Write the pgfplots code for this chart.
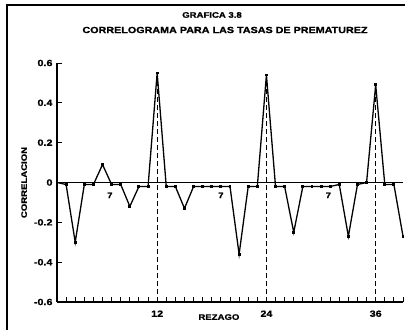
\documentclass[border=0pt]{standalone}
\usepackage{fontspec}
\setmainfont{Liberation Sans}[FakeStretch=1.2,BoldFeatures={FakeBold=1.2}]
\usepackage{pgfplots}
\pgfplotsset{compat=1.18}
\begin{document}
\begin{tikzpicture}[x=1bp,y=1bp]
\useasboundingbox (0,0) rectangle (414,330);
\draw[line width=1.6bp] (7,0) -- (7,325) -- (405,325);
\node[font=\fontsize{8}{10}\selectfont\bfseries] at (212,315) {GRAFICA 3.8};
\node[font=\fontsize{9}{11}\selectfont\bfseries] at (225,300) {CORRELOGRAMA PARA LAS TASAS DE PREMATUREZ};
\begin{axis}[
  at={(57bp,28bp)}, anchor=south west,
  width=346bp, height=239bp, scale only axis,
  xmin=1, xmax=39, ymin=-0.6, ymax=0.6,
  axis x line*=bottom, axis y line*=left,
  axis line style={line width=1.4bp,-},
  xtick={12,24,36}, xticklabels={12,24,36},
  minor xtick={1,...,39},
  ytick={-0.6,-0.4,-0.2,0,0.2,0.4,0.6},
  yticklabels={-0.6,-0.4,-0.2,0,0.2,0.4,0.6},
  tick align=inside,
  major tick length=5bp, minor tick length=5bp,
  tick style={line width=0.9bp,black},
  minor tick style={line width=0.9bp,black},
  tick label style={font=\fontsize{9}{10}\selectfont\bfseries},
  xticklabel style={yshift=-5bp},
  yticklabel style={xshift=-1bp},
  ylabel={CORRELACION},
  ylabel style={at={(axis description cs:-0.095,0.5)},anchor=center,font=\fontsize{8}{9}\selectfont\bfseries},
  xlabel={REZAGO},
  xlabel style={at={(axis description cs:0.468,-0.063)},anchor=center,font=\fontsize{8}{9}\selectfont\bfseries},
  clip=false,
]
\addplot[black, line width=1.2bp] coordinates {(1,0) (39,0)};
\addplot[black, line width=1.1bp, dash pattern=on 5bp off 3bp] coordinates {(12,-0.6) (12,0.55)};
\addplot[black, line width=1.1bp, dash pattern=on 5bp off 3bp] coordinates {(24,-0.6) (24,0.54)};
\addplot[black, line width=1.1bp, dash pattern=on 5bp off 3bp] coordinates {(36,-0.6) (36,0.49)};
\addplot[black, line width=1.3bp, mark=square*, mark size=0.8bp] coordinates {
(1,0.0) (2,-0.01) (3,-0.30) (4,-0.01) (5,-0.01) (6,0.09) (7,-0.01) (8,-0.01)
(9,-0.12) (10,-0.02) (11,-0.02) (12,0.55) (13,-0.02) (14,-0.02) (15,-0.13)
(16,-0.02) (17,-0.02) (18,-0.02) (19,-0.02) (20,-0.02) (21,-0.36) (22,-0.02)
(23,-0.02) (24,0.54) (25,-0.02) (26,-0.02) (27,-0.25) (28,-0.02) (29,-0.02)
(30,-0.02) (31,-0.02) (32,-0.01) (33,-0.27) (34,-0.01) (35,0.0) (36,0.49)
(37,-0.01) (38,-0.01) (39,-0.27)};
\node[font=\fontsize{8}{9}\selectfont\bfseries] at (axis cs:6.8,-0.065) {7};
\node[font=\fontsize{8}{9}\selectfont\bfseries] at (axis cs:19,-0.065) {7};
\node[font=\fontsize{8}{9}\selectfont\bfseries] at (axis cs:30.8,-0.065) {7};
\end{axis}
\end{tikzpicture}
\end{document}
